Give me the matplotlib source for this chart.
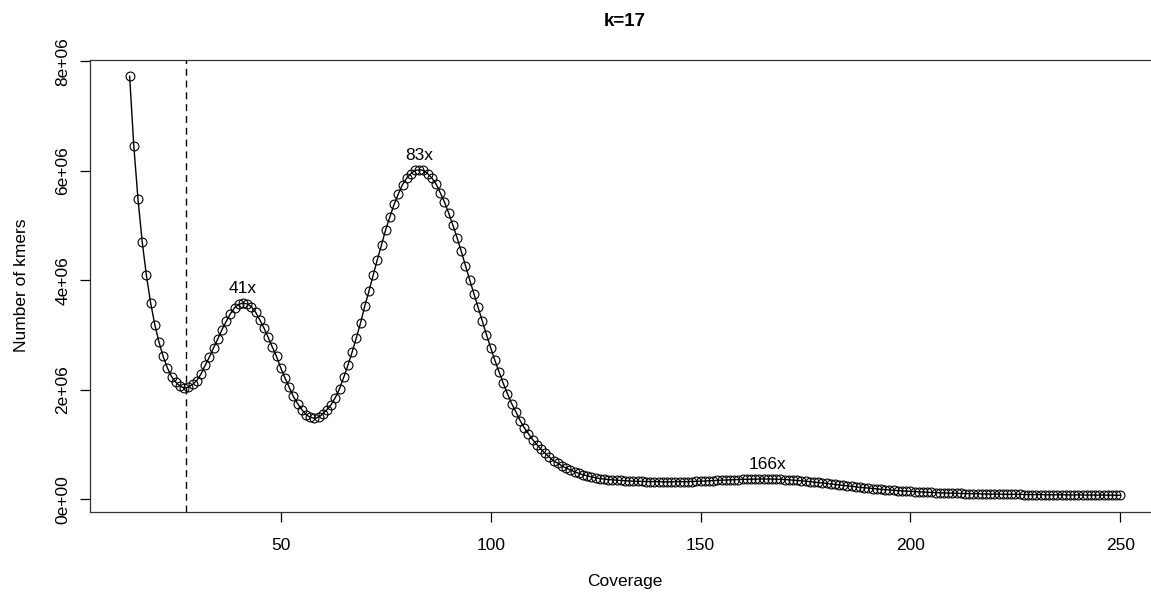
import matplotlib
matplotlib.use("Agg")
import matplotlib.pyplot as plt
import numpy as np

plt.rcParams['font.family'] = ['Liberation Sans', 'DejaVu Sans']

# k-mer coverage histogram (k=17): coverage depth vs number of distinct k-mers (millions)
coverage = list(range(14, 251))
kmers_millions = [
    # 14-29
    7.73, 6.45, 5.48, 4.70, 4.09, 3.59, 3.19, 2.87, 2.61, 2.40, 2.24, 2.14, 2.07, 2.03, 2.05, 2.10,
    # 30-45
    2.17, 2.29, 2.45, 2.60, 2.77, 2.93, 3.10, 3.25, 3.39, 3.50, 3.56, 3.59, 3.57, 3.52, 3.42, 3.28,
    # 46-61
    3.13, 2.96, 2.78, 2.61, 2.40, 2.22, 2.05, 1.88, 1.75, 1.64, 1.55, 1.50, 1.48, 1.50, 1.56, 1.64,
    # 62-77
    1.73, 1.86, 2.02, 2.23, 2.45, 2.69, 2.95, 3.22, 3.53, 3.80, 4.09, 4.38, 4.65, 4.93, 5.16, 5.39,
    # 78-93
    5.58, 5.75, 5.87, 5.95, 6.01, 6.02, 6.01, 5.95, 5.87, 5.76, 5.60, 5.43, 5.23, 5.01, 4.78, 4.53,
    # 94-109
    4.27, 4.01, 3.76, 3.51, 3.26, 3.01, 2.77, 2.54, 2.33, 2.12, 1.93, 1.75, 1.60, 1.44, 1.31, 1.20,
    # 110-125
    1.09, 1.00, 0.915, 0.84, 0.77, 0.70, 0.66, 0.61, 0.57, 0.535, 0.505, 0.475, 0.45, 0.43, 0.41, 0.395,
    # 126-141
    0.38, 0.37, 0.362, 0.355, 0.35, 0.345, 0.34, 0.335, 0.332, 0.33, 0.327, 0.325, 0.323, 0.322, 0.321, 0.32,
    # 142-157
    0.32, 0.32, 0.32, 0.321, 0.322, 0.324, 0.326, 0.329, 0.332, 0.335, 0.339, 0.343, 0.347, 0.35, 0.354, 0.357,
    # 158-173
    0.36, 0.362, 0.365, 0.367, 0.369, 0.37, 0.371, 0.372, 0.372, 0.371, 0.369, 0.366, 0.362, 0.357, 0.352, 0.346,
    # 174-189
    0.339, 0.332, 0.324, 0.316, 0.308, 0.299, 0.29, 0.281, 0.272, 0.263, 0.254, 0.245, 0.236, 0.228, 0.22, 0.212,
    # 190-205
    0.204, 0.197, 0.19, 0.183, 0.177, 0.171, 0.165, 0.16, 0.155, 0.15, 0.145, 0.141, 0.137, 0.133, 0.129, 0.126,
    # 206-221
    0.123, 0.12, 0.117, 0.114, 0.112, 0.11, 0.108, 0.106, 0.104, 0.102, 0.1, 0.099, 0.097, 0.096, 0.095, 0.094,
    # 222-237
    0.093, 0.092, 0.091, 0.09, 0.089, 0.088, 0.087, 0.087, 0.086, 0.085, 0.085, 0.084, 0.083, 0.083, 0.082, 0.082,
    # 238-250
    0.081, 0.081, 0.08, 0.08, 0.079, 0.079, 0.078, 0.078, 0.077, 0.077, 0.076, 0.076, 0.075,
]
kmers = np.array(kmers_millions) * 1e6

peak_labels = ["41x", "83x", "166x"]
peak_coverage = [41, 83, 166]
valley_cutoff = 27.5

x_ticks = [50, 100, 150, 200, 250]
y_ticks = [0, 2e6, 4e6, 6e6, 8e6]
y_tick_labels = ["0e+00", "2e+06", "4e+06", "6e+06", "8e+06"]

W, H = 1151, 599
fig = plt.figure(figsize=(W / 100, H / 100), dpi=100)
fig.patch.set_facecolor("white")

# plot region extends past the right edge of the canvas
left, right, top, bottom = 90, 1160, 59.5, 512
ax = fig.add_axes([left / W, 1 - bottom / H, (right - left) / W, (bottom - top) / H])

ax.plot(coverage, kmers, color="black", linewidth=1.0, marker="o", markersize=6.4,
        markerfacecolor="none", markeredgecolor="black", markeredgewidth=0.8)

ax.axvline(valley_cutoff, color="black", linewidth=1.0, linestyle=(0, (5, 3.5)))

for lab, cx in zip(peak_labels, peak_coverage):
    cy = kmers[coverage.index(cx)]
    ax.annotate(lab, xy=(cx, cy), xytext=(0, 10.5), textcoords="offset points",
                ha="center", va="center", fontsize=12.5)

# R-style 4% axis padding
xr = max(coverage) - min(coverage)
yr = kmers.max() - kmers.min()
ax.set_xlim(min(coverage) - 0.04 * xr, max(coverage) + 0.04 * xr)
ax.set_ylim(kmers.min() - 0.04 * yr, kmers.max() + 0.04 * yr)

ax.set_xticks(x_ticks)
ax.set_xticklabels([str(t) for t in x_ticks], fontsize=12.5)
ax.set_yticks(y_ticks)
ax.set_yticklabels(y_tick_labels, fontsize=12.5, rotation=90, va="center")
ax.tick_params(direction="out", length=7, width=0.9, color="black", pad=12)
ax.tick_params(axis="y", pad=7)

for s in ax.spines.values():
    s.set_linewidth(0.9)
    s.set_color("#333333")

ax.set_xlabel("Coverage", fontsize=12.5, labelpad=15)
ax.set_ylabel("Number of kmers", fontsize=12.5, labelpad=19)
fig.text((left + right) / 2 / W, 1 - 21 / H, "k=17", ha="center", va="center",
         fontsize=13.5, fontweight="bold")

fig.savefig("out.png", dpi=100, facecolor="white")
